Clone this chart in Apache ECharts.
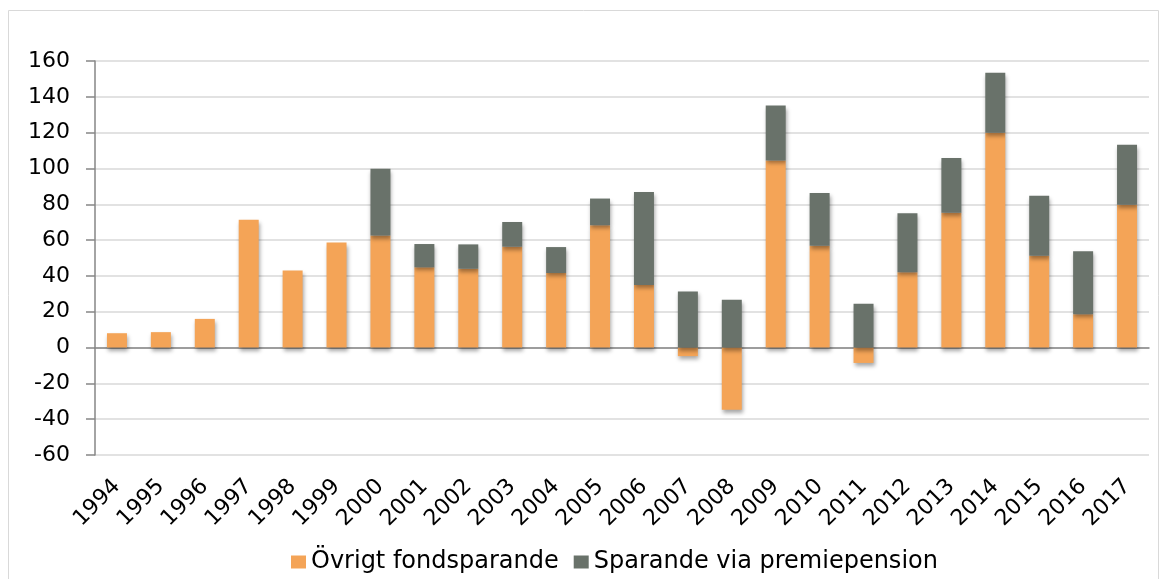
<!DOCTYPE html>
<html>
<head>
<meta charset="utf-8">
<script src="https://cdn.jsdelivr.net/npm/echarts@6/dist/echarts.min.js"></script>
<style>
html,body{margin:0;padding:0;background:#fff;}
#chart{width:1167px;height:579px;}
</style>
</head>
<body>
<div id="chart"></div>
<script>
const years = ['1994','1995','1996','1997','1998','1999','2000','2001','2002','2003','2004','2005','2006','2007','2008','2009','2010','2011','2012','2013','2014','2015','2016','2017'];
const ovrigt = [8, 8.6, 16, 71.4, 43, 58.6, 62.5, 44.8, 44, 56.3, 41.6, 68.3, 34.9, -4.8, -34.7, 104.5, 56.9, -8.6, 42, 75.3, 119.9, 51.3, 18.6, 79.8];
const premie = [0, 0, 0, 0, 0, 0, 37.3, 13, 13.6, 13.8, 14.5, 14.9, 52, 31.3, 26.7, 30.6, 29.4, 24.4, 33, 30.6, 33.6, 33.5, 35.1, 33.4];
const seriesNames = ['Övrigt fondsparande', 'Sparande via premiepension'];
const yTicks = {min: -60, max: 160, interval: 20};

const chart = echarts.init(document.getElementById('chart'), null, {renderer: 'canvas'});
const font = 'DejaVu Sans';
const shadow = {shadowColor: 'rgba(0,0,0,0.35)', shadowBlur: 4, shadowOffsetX: 1, shadowOffsetY: 3};
chart.setOption({
  animation: false,
  graphic: [{
    type: 'rect', shape: {x: 8.5, y: 10.5, width: 1150, height: 600},
    style: {fill: 'none', stroke: '#d9d9d9', lineWidth: 1}, silent: true, z: -10
  }],
  grid: {left: 95, right: 18, top: 61, bottom: 124, containLabel: false, outerBoundsMode: 'none'},
  legend: {
    left: 291, top: 550, padding: 0,
    itemWidth: 15, itemHeight: 13, itemGap: 15,
    icon: 'rect',
    textStyle: {fontFamily: font, fontSize: 24, color: '#000'},
    data: seriesNames
  },
  xAxis: {
    type: 'category', data: years,
    axisLine: {onZero: true, lineStyle: {color: '#868686', width: 1.5}},
    axisTick: {show: false},
    axisLabel: {rotate: 45, interval: 0, fontFamily: font, fontSize: 22, color: '#000', margin: 28},
    splitLine: {show: false}
  },
  yAxis: {
    type: 'value', min: yTicks.min, max: yTicks.max, interval: yTicks.interval,
    axisLine: {show: true, lineStyle: {color: '#868686', width: 1.5}},
    axisTick: {show: true, length: 9, lineStyle: {color: '#868686', width: 1.5}},
    axisLabel: {fontFamily: font, fontSize: 22, color: '#000', margin: 25},
    splitLine: {lineStyle: {color: '#d9d9d9', width: 1.5}}
  },
  series: [
    {name: seriesNames[0], type: 'bar', stack: 'total', data: ovrigt, barWidth: 20,
     itemStyle: Object.assign({color: '#F4A457'}, shadow)},
    {name: seriesNames[1], type: 'bar', stack: 'total', data: premie, barWidth: 20,
     itemStyle: Object.assign({color: '#69726A'}, shadow)}
  ]
});
</script>
</body>
</html>
